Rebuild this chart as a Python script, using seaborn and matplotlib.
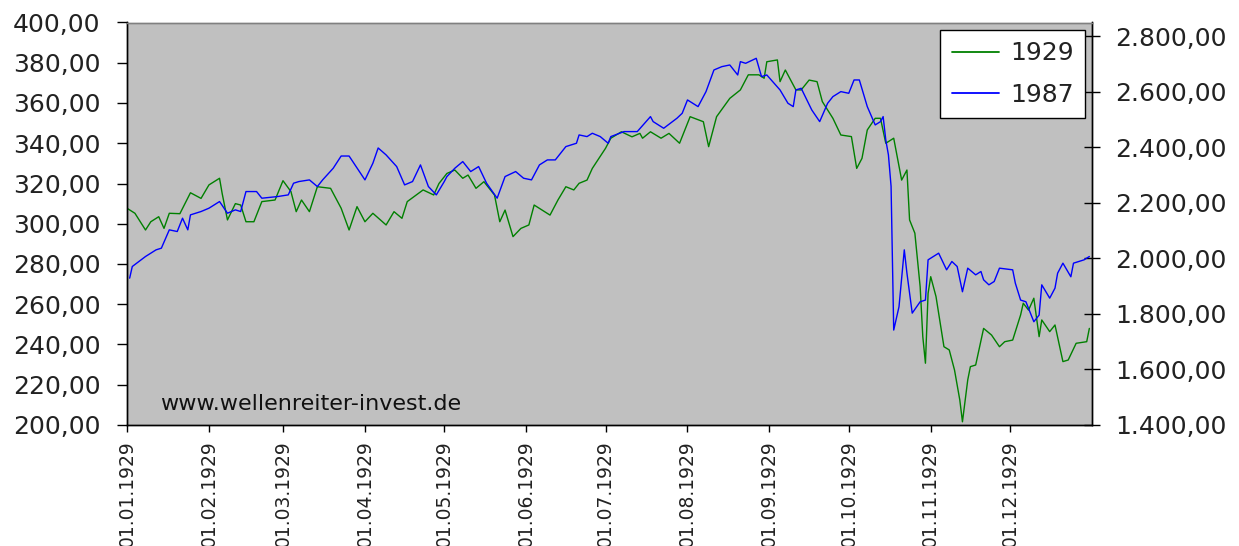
import pandas as pd
import matplotlib
matplotlib.use("Agg")
import matplotlib.pyplot as plt
import matplotlib.dates as mdates
from matplotlib.ticker import FuncFormatter, MultipleLocator
from matplotlib.lines import Line2D
import seaborn as sns

# Dow Jones 1929 (linke Achse) und 1987 (rechte Achse), Tag im Jahr ab 01.01.
tage_1929 = [0, 3, 7, 9, 12, 14, 16, 20, 24, 28, 31, 35, 36, 38, 41, 43, 45, 48, 51, 56,
             59, 62, 64, 66, 69, 72, 77, 81, 84, 87, 90, 93, 98, 101, 104, 106, 112, 116, 118, 121,
             124, 127, 129, 132, 135, 139, 141, 143, 146, 149, 152, 154, 160, 163, 166, 169, 171, 174, 176, 181,
             183, 187, 191, 194, 195, 198, 202, 205, 209, 213, 218, 220, 223, 228, 232, 235, 239, 241, 242, 246,
             247, 249, 253, 255, 258, 261, 263, 267, 270, 274, 276, 278, 280, 283, 285, 287, 290, 293, 295, 296,
             298, 300, 301, 302, 303, 304, 306, 309, 311, 313, 315, 316, 318, 319, 321, 324, 327, 330, 332, 335,
             338, 339, 341, 343, 345, 346, 349, 351, 354, 356, 359, 363, 364]
werte_1929 = [307.7, 305.2, 296.9, 301.0, 303.5, 297.7, 305.2, 305.0, 315.4, 312.6, 319.3, 322.6, 315.0, 301.9, 310.0, 309.3, 301.0, 301.0, 311.0, 311.8,
              321.4, 316.0, 306.0, 311.8, 306.0, 318.4, 317.6, 307.7, 296.9, 308.5, 301.0, 305.2, 299.4, 306.0, 302.7, 311.0, 316.8, 314.3, 320.0, 325.0,
              326.7, 322.6, 324.2, 317.6, 320.9, 314.3, 301.0, 306.8, 293.6, 297.7, 299.4, 309.3, 304.3, 311.8, 318.4, 316.8, 320.1, 321.7, 327.5, 337.5,
              342.5, 345.7, 343.2, 344.9, 342.5, 345.7, 342.5, 344.9, 340.0, 353.2, 350.7, 338.3, 353.2, 362.3, 366.5, 374.0, 374.0, 372.3, 380.5, 381.4,
              370.6, 376.4, 366.5, 366.5, 371.4, 370.6, 360.7, 352.4, 344.1, 343.3, 327.5, 332.5, 346.6, 352.4, 352.4, 340.0, 342.5, 321.7, 326.7, 301.9,
              295.3, 268.7, 243.9, 230.7, 265.4, 273.7, 263.8, 238.9, 237.3, 227.3, 212.4, 201.6, 222.4, 229.0, 229.8, 248.0, 244.7, 238.9, 241.4, 242.2,
              254.7, 260.5, 257.1, 263.0, 243.9, 252.2, 246.4, 249.7, 231.5, 232.3, 240.6, 241.4, 248.0]

tage_1987 = [1, 2, 7, 11, 13, 16, 19, 21, 23, 24, 28, 31, 35, 38, 41, 43, 45, 49, 51, 57,
             61, 63, 65, 69, 72, 74, 78, 81, 84, 90, 93, 95, 98, 102, 105, 108, 111, 114, 117, 120,
             121, 124, 127, 130, 133, 136, 140, 143, 147, 150, 153, 156, 159, 162, 166, 170, 171, 174, 176, 179,
             182, 183, 188, 193, 198, 199, 203, 208, 210, 212, 216, 219, 222, 225, 228, 231, 232, 234, 238, 240,
             242, 247, 250, 252, 253, 255, 259, 262, 265, 267, 270, 273, 275, 277, 280, 283, 285, 286, 287, 288,
             289, 290, 292, 294, 295, 297, 300, 302, 303, 307, 310, 312, 314, 316, 318, 321, 323, 324, 326, 328,
             330, 335, 336, 338, 340, 343, 345, 346, 349, 351, 352, 354, 357, 358, 362, 364]
werte_1987 = [1929, 1971, 2007, 2031, 2037, 2103, 2097, 2145, 2103, 2157, 2169, 2181, 2205, 2163, 2175, 2169, 2241, 2241, 2217, 2223,
              2229, 2271, 2277, 2283, 2259, 2283, 2325, 2369, 2369, 2283, 2343, 2398, 2373, 2331, 2265, 2277, 2337, 2259, 2229, 2277,
              2295, 2325, 2349, 2313, 2331, 2271, 2217, 2295, 2313, 2289, 2283, 2337, 2355, 2355, 2403, 2415, 2445, 2439, 2451, 2439,
              2415, 2439, 2457, 2457, 2511, 2493, 2469, 2505, 2523, 2571, 2547, 2601, 2679, 2691, 2697, 2661, 2709, 2703, 2721, 2655,
              2661, 2607, 2559, 2547, 2607, 2613, 2535, 2493, 2559, 2583, 2601, 2595, 2643, 2643, 2547, 2481, 2493, 2511, 2427, 2373,
              2260, 1742, 1826, 2031, 1947, 1803, 1844, 1850, 1995, 2019, 1959, 1989, 1971, 1880, 1965, 1941, 1953, 1923, 1905, 1917,
              1965, 1959, 1911, 1850, 1844, 1772, 1796, 1905, 1857, 1893, 1947, 1983, 1934, 1983, 1995, 2007]

monate = pd.date_range("1929-01-01", periods=12, freq="MS")

start = pd.Timestamp("1929-01-01")
df29 = pd.DataFrame({"datum": start + pd.to_timedelta(tage_1929, unit="D"), "wert": werte_1929})
df87 = pd.DataFrame({"datum": start + pd.to_timedelta(tage_1987, unit="D"), "wert": werte_1987})

sns.set_style("ticks")
plt.rcParams["font.family"] = ["DejaVu Sans"]

fig = plt.figure(figsize=(12.39, 5.46), dpi=100)
ax = fig.add_axes([127 / 1239, 1 - 425 / 546, 965 / 1239, 402.5 / 546])
ax.set_facecolor("#c0c0c0")
ax2 = ax.twinx()

gruen = "#008000"
blau = "#0000ff"
sns.lineplot(data=df29, x="datum", y="wert", ax=ax, color=gruen, linewidth=1.0, legend=False)
sns.lineplot(data=df87, x="datum", y="wert", ax=ax2, color=blau, linewidth=1.0, legend=False)

ax.set_xlim(pd.Timestamp("1929-01-01"), pd.Timestamp("1930-01-01"))
ax.set_ylim(200, 400)
ax2.set_ylim(1400, 2850)
ax.yaxis.set_major_locator(MultipleLocator(20))
ax2.yaxis.set_major_locator(MultipleLocator(200))

def de_zahl(v, pos):
    s = f"{v:,.2f}"
    return s.replace(",", "X").replace(".", ",").replace("X", ".")

ax.yaxis.set_major_formatter(FuncFormatter(de_zahl))
ax2.yaxis.set_major_formatter(FuncFormatter(de_zahl))

ax.set_xticks(monate)
ax.xaxis.set_major_formatter(mdates.DateFormatter("%d.%m.%Y"))
for lab in ax.get_xticklabels():
    lab.set_rotation(90)

ax.set_xlabel("")
ax.set_ylabel("")
ax2.set_ylabel("")

ax.tick_params(axis="y", labelsize=18, length=7, width=1, color="black", labelcolor="#222222", pad=12)
ax.tick_params(axis="x", labelsize=13.5, length=5, width=1, color="black", labelcolor="#222222", pad=6)
ax2.tick_params(axis="y", labelsize=18, length=11, width=1, direction="inout", color="black",
                labelcolor="#222222", pad=11)

for a in (ax, ax2):
    for name, sp in a.spines.items():
        sp.set_visible(True)
        sp.set_linewidth(1.0)
        sp.set_color("black")
    a.spines["top"].set_color("#808080")

ax.text(0.034, 0.052, "www.wellenreiter-invest.de", transform=ax.transAxes,
        fontsize=16, color="#111111", ha="left", va="center")

handles = [Line2D([], [], color=gruen, linewidth=1.3), Line2D([], [], color=blau, linewidth=1.3)]
leg = ax2.legend(handles, ["1929", "1987"], loc="upper right", bbox_to_anchor=(0.993, 0.981),
                 fontsize=18, frameon=True, fancybox=False, framealpha=1, facecolor="white",
                 edgecolor="black", handlelength=1.9, handletextpad=0.45, labelspacing=0.7,
                 borderpad=0.45, borderaxespad=0)
leg.get_frame().set_linewidth(1.0)
for t in leg.get_texts():
    t.set_color("#222222")

fig.savefig("out.png", dpi=100)
